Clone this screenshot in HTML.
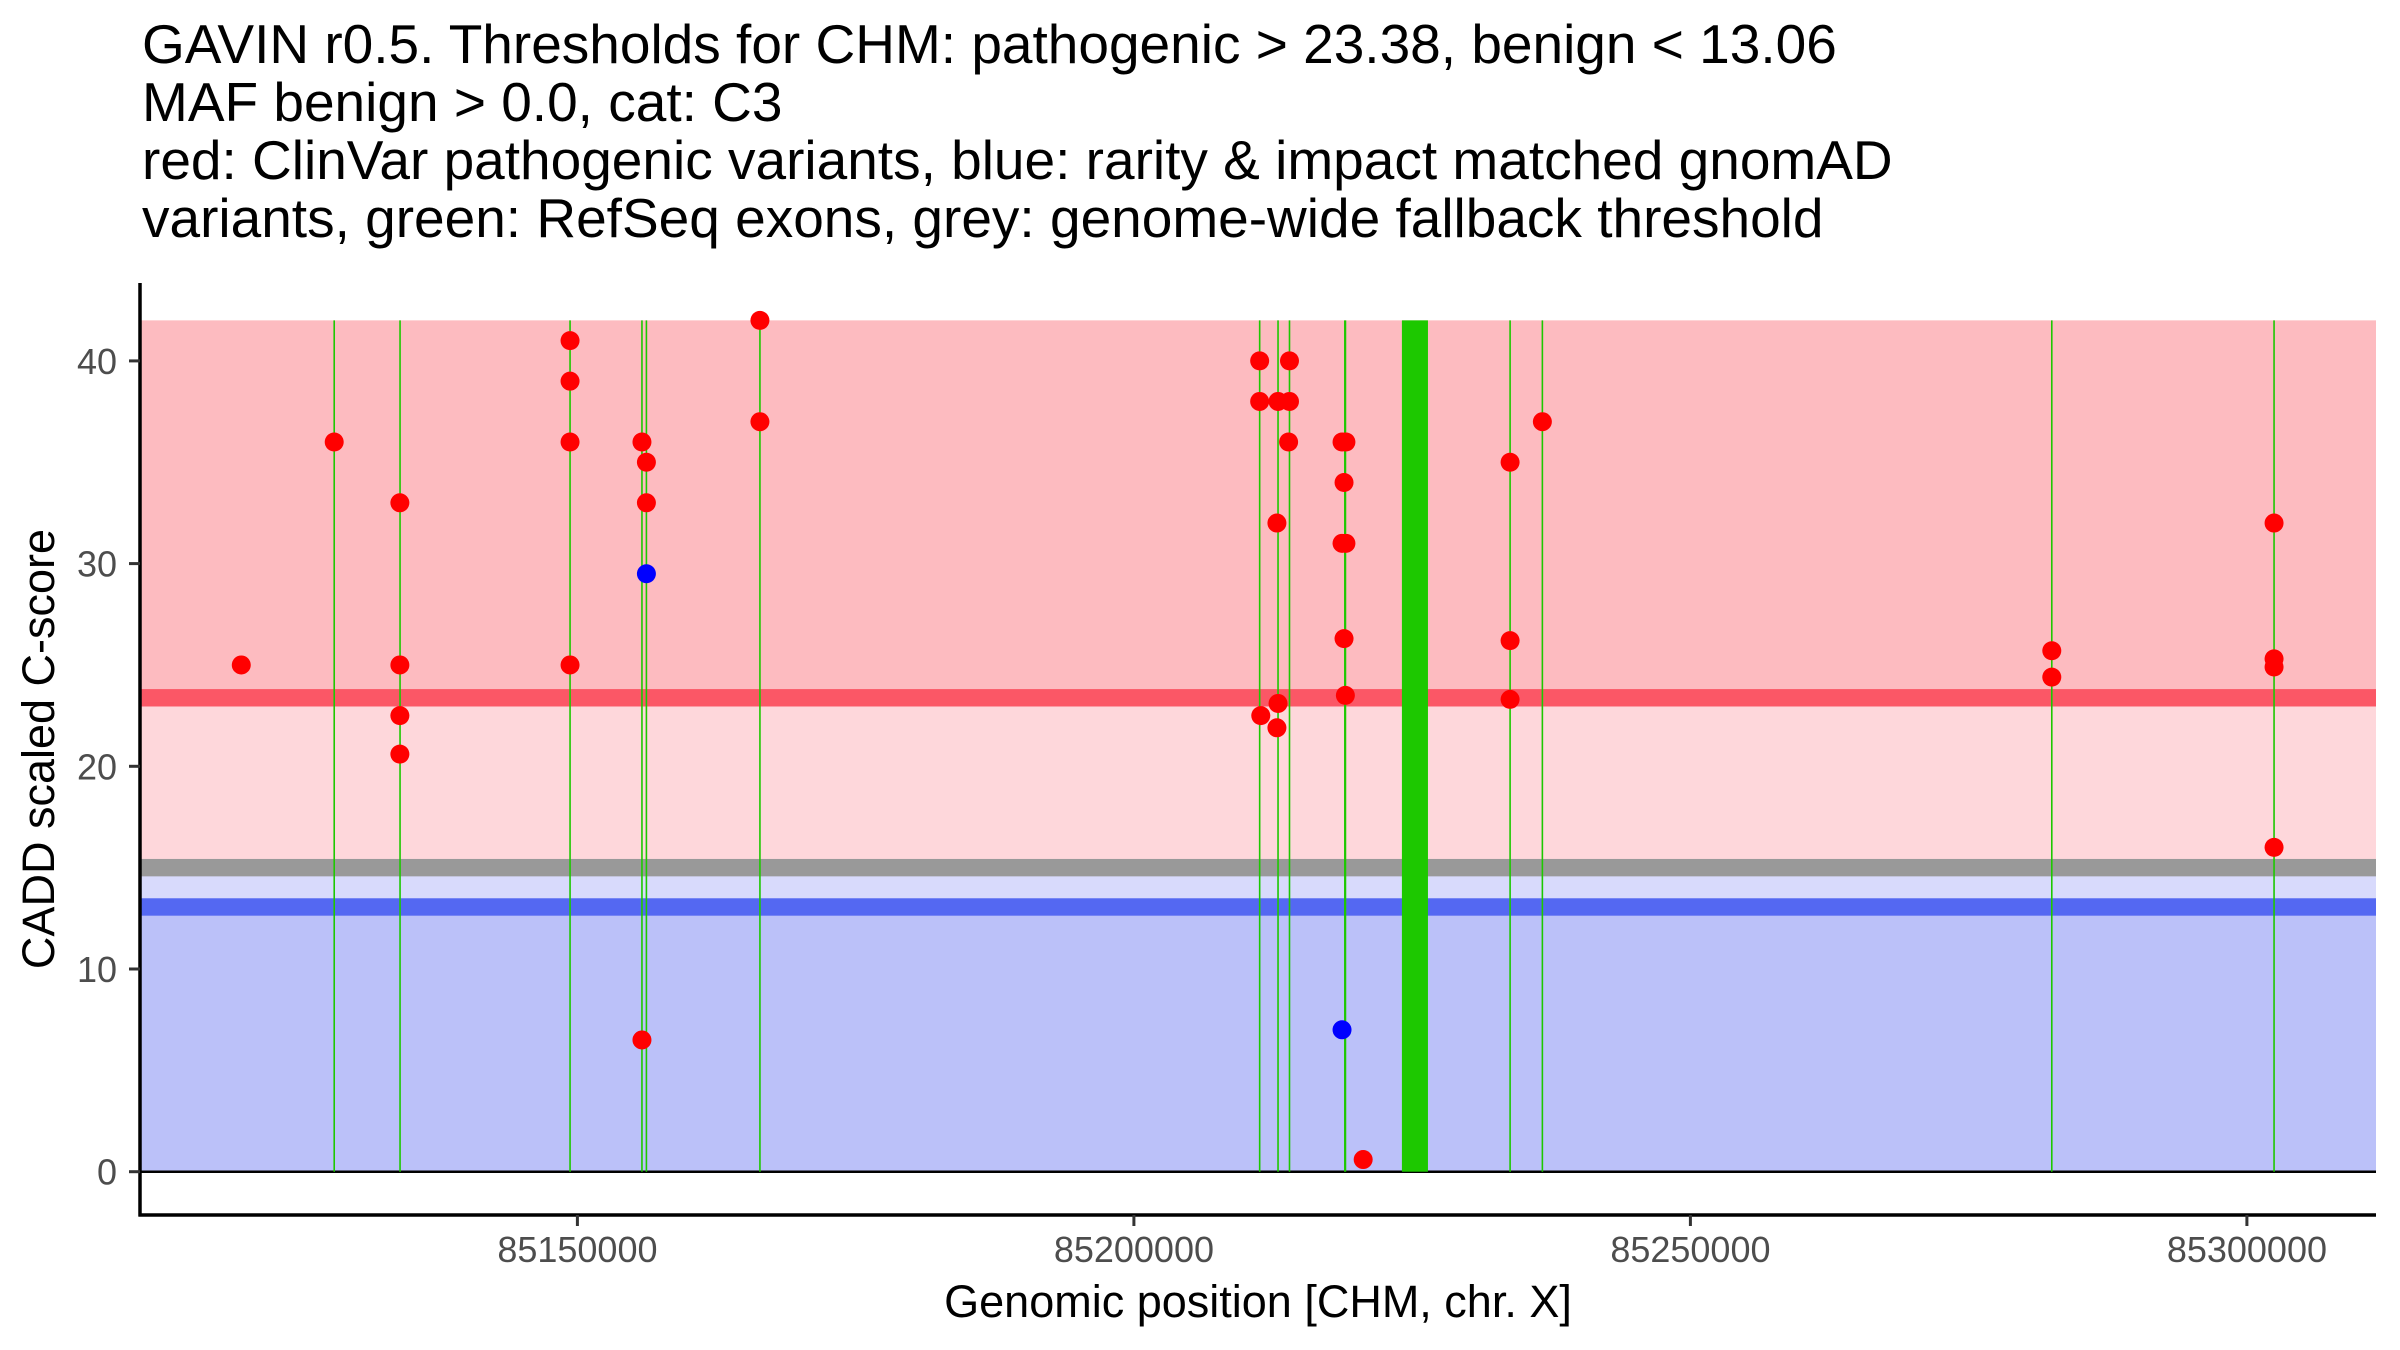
<!DOCTYPE html>
<html><head><meta charset="utf-8"><style>
html,body{margin:0;padding:0;background:#fff;}
svg{display:block;font-family:"Liberation Sans",Arial,sans-serif;}
</style></head><body>
<svg id="chart" width="2400" height="1350" viewBox="0 0 2400 1350" xmlns="http://www.w3.org/2000/svg">
<g font-size="55" fill="#000">
<text x="142" y="63">GAVIN r0.5. Thresholds for CHM: pathogenic &gt; 23.38, benign &lt; 13.06</text>
<text x="142" y="121">MAF benign &gt; 0.0, cat: C3</text>
<text x="142" y="179">red: ClinVar pathogenic variants, blue: rarity &amp; impact matched gnomAD</text>
<text x="142" y="237">variants, green: RefSeq exons, grey: genome-wide fallback threshold</text>
</g>
<g id="bands"></g>
<g id="exons"></g>
<g id="points"></g>
<g id="axes"></g>
<text x="1258" y="1317" font-size="45" text-anchor="middle" fill="#000">Genomic position [CHM, chr. X]</text>
<text transform="translate(54,749) rotate(-90)" font-size="45" text-anchor="middle" fill="#000">CADD scaled C-score</text>
</svg>
<script>
const pathogenicThreshold = 23.38;
const fallbackThreshold = 15.0;
const benignThreshold = 13.06;
const yMaxValue = 42;
const exonStart = [85128150,85134050,85149340,85155800,85156200,85166400,85211300,85212950,85213980,85218880,85224080,85233800,85236700,85282470,85302440];
const exonEnd   = [85128150,85134080,85149340,85155800,85156200,85166400,85211300,85212950,85213980,85219080,85226420,85233800,85236700,85282470,85302440];
const redPos = [85119800,85128150,85134050,85134050,85134050,85134050,85149340,85149340,85149340,85149340,85155800,85155800,85156200,85156200,85166400,85166400,85211300,85211300,85211400,85212950,85212850,85212950,85212850,85213980,85213980,85213900,85218700,85219050,85218880,85218700,85219050,85218880,85219000,85220600,85233800,85233800,85233800,85236700,85282470,85282470,85302440,85302440,85302440,85302440];
const redScore = [25,36,33,25,22.5,20.6,41,39,36,25,36,6.5,35,33,42,37,40,38,22.5,38,32,23.1,21.9,40,38,36,36,36,34,31,31,26.3,23.5,0.6,35,26.2,23.3,37,25.7,24.4,32,25.3,24.9,16];
const bluePos = [85156200,85218700];
const blueScore = [29.5,7];
const xTicks = [85150000,85200000,85250000,85300000];
const xTickLabels = ["85150000","85200000","85250000","85300000"];
const yTicks = [0,10,20,30,40];
const yTickLabels = ["0","10","20","30","40"];

const NS = "http://www.w3.org/2000/svg";
const L = 140, R = 2376, AXIS_Y = 1215, AXIS_TOP = 283;
function xs(bp){ return 577.4 + (bp - 85150000) * 0.01113; }
function ys(v){ return 1171.7 - v * 20.27; }
function mk(tag, attrs, parent){
  const e = document.createElementNS(NS, tag);
  for (const k in attrs) e.setAttribute(k, attrs[k]);
  parent.appendChild(e); return e;
}
const bands = document.getElementById('bands');
const half = 8.7;
let r;
r = mk('rect',{x:L,y:ys(yMaxValue),width:R-L,height:ys(pathogenicThreshold)-ys(yMaxValue),fill:'#FDBBC0'},bands);


r = mk('rect',{x:L,y:ys(pathogenicThreshold),width:R-L,height:ys(fallbackThreshold)-ys(pathogenicThreshold),fill:'#FED7DB'},bands);


r = mk('rect',{x:L,y:ys(fallbackThreshold),width:R-L,height:ys(benignThreshold)-ys(fallbackThreshold),fill:'#D8DAFC'},bands);


r = mk('rect',{x:L,y:ys(benignThreshold),width:R-L,height:ys(0)-ys(benignThreshold),fill:'#BBC1F9'},bands);


r = mk('rect',{x:L,y:ys(pathogenicThreshold)-half,width:R-L,height:2*half,fill:'#FB5766'},bands);


r = mk('rect',{x:L,y:ys(fallbackThreshold)-half,width:R-L,height:2*half,fill:'#999999'},bands);


r = mk('rect',{x:L,y:ys(benignThreshold)-half,width:R-L,height:2*half,fill:'#5468F2'},bands);


r = mk('line',{x1:L,x2:R,y1:ys(0),y2:ys(0),stroke:'#000','stroke-width':2.5},bands);



const ex = document.getElementById('exons');
for (let i = 0; i < exonStart.length; i++){
  const x0 = xs(exonStart[i]), x1 = xs(exonEnd[i]);
  const w = Math.max(1.6, x1 - x0);
  const e = mk('rect',{x:(x0+x1)/2 - w/2,y:ys(yMaxValue),width:w,height:ys(0)-ys(yMaxValue),fill:'#1DC800'},ex);
  
  
}
const pts = document.getElementById('points');
for (let i = 0; i < redPos.length; i++){
  const c = mk('circle',{cx:xs(redPos[i]),cy:ys(redScore[i]),r:9.5,fill:'#FF0000'},pts);
  
  
}
for (let i = 0; i < bluePos.length; i++){
  const c = mk('circle',{cx:xs(bluePos[i]),cy:ys(blueScore[i]),r:9.5,fill:'#0000FF'},pts);
  
  
}
const ax = document.getElementById('axes');
let a = mk('line',{x1:L,x2:L,y1:AXIS_TOP,y2:AXIS_Y+1.5,stroke:'#000','stroke-width':3.5},ax);


a = mk('line',{x1:L-1.5,x2:R,y1:AXIS_Y,y2:AXIS_Y,stroke:'#000','stroke-width':3.5},ax);


for (let i = 0; i < yTicks.length; i++){
  const y = ys(yTicks[i]);
  const t = mk('line',{x1:129,x2:L,y1:y,y2:y,stroke:'#333','stroke-width':3},ax);
  
  
  const tx = mk('text',{x:117,y:y+13,'font-size':36,'text-anchor':'end',fill:'#4D4D4D'},ax);
  tx.textContent = yTickLabels[i];
  
  
}
for (let i = 0; i < xTicks.length; i++){
  const x = xs(xTicks[i]);
  const t = mk('line',{x1:x,x2:x,y1:AXIS_Y,y2:AXIS_Y+11,stroke:'#333','stroke-width':3},ax);
  
  
  const tx = mk('text',{x:x,y:1262,'font-size':36,'text-anchor':'middle',fill:'#4D4D4D'},ax);
  tx.textContent = xTickLabels[i];
  
  
}
</script>
</body></html>
